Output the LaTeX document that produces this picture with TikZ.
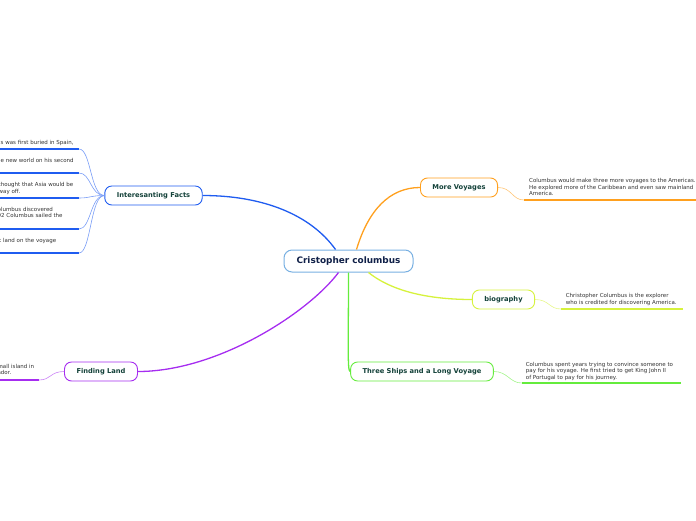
\documentclass[tikz,border=0pt]{standalone}
\usepackage{fontspec}
\setmainfont{DejaVu Sans}
\usepackage{tikz}
\usetikzlibrary{positioning}

\definecolor{factsblue}{RGB}{31,92,240}
\definecolor{tripsorange}{RGB}{255,160,30}
\definecolor{bioyellow}{RGB}{214,242,60}
\definecolor{shipsgreen}{RGB}{100,236,60}
\definecolor{landpurple}{RGB}{166,45,240}
\definecolor{rootblue}{RGB}{120,176,226}
\definecolor{topictext}{RGB}{20,66,58}
\definecolor{roottext}{RGB}{16,32,72}
\definecolor{notetext}{RGB}{50,50,50}

\begin{document}
\begin{tikzpicture}[x=1pt, y=-1pt,
    root/.style={rectangle, rounded corners=8pt, draw=rootblue, line width=1pt, fill=white,
                 minimum width=129pt, minimum height=22pt, inner sep=0pt,
                 font=\fontsize{8.9}{10}\selectfont\bfseries, text=roottext},
    topic/.style={rectangle, rounded corners=7pt, draw=#1, line width=0.9pt, fill=white,
                  minimum height=19pt, inner xsep=12pt, inner ysep=0pt,
                  font=\fontsize{6.7}{8}\selectfont\bfseries, text=topictext},
    note/.style={inner sep=0pt, align=left, text=notetext,
                 font=\fontsize{5.5}{6.7}\selectfont},
    branch/.style={draw=#1, line width=1.3pt},
    twig/.style={draw=#1!60, line width=0.6pt},
    uline/.style={draw=#1, line width=1.8pt}
]
    \useasboundingbox (0,0) rectangle (696,520);

    % Main topics
    \node[root] (root) at (348.5,261) {Cristopher columbus};
    \node[topic=factsblue] (facts) at (153.5,195.5) {Interesanting Facts};
    \node[topic=tripsorange] (trips) at (459,187.5) {More Voyages};
    \node[topic=bioyellow] (bio) at (503.5,299.5) {biography};
    \node[topic=shipsgreen] (ships) at (422,371.5) {Three Ships and a Long Voyage};
    \node[topic=landpurple] (land) at (101,371.5) {Finding Land};

    % Branches from the centre
    \draw[branch=factsblue] ([xshift=-13pt]root.north) .. controls +(-25,-35) and +(60,0) .. (facts.east);
    \draw[branch=tripsorange] ([xshift=8pt]root.north) .. controls +(12,-40) and +(-30,0) .. (trips.west);
    \draw[branch=bioyellow] ([xshift=20pt]root.south) .. controls +(25,20) and +(-40,0) .. (bio.west);
    \draw[branch=shipsgreen] (root.south) .. controls +(0,70) and +(-3,0) .. (ships.west);
    \draw[branch=landpurple] ([xshift=-10pt]root.south) .. controls +(-30,40) and +(80,0) .. (land.east);

    % Notes on the right
    \node[note, anchor=north west] (tripsnote) at (529,178.2) {Columbus would make three more voyages to the Americas.\\He explored more of the Caribbean and even saw mainland\\America.};
    \coordinate (tripsline) at (524,200);
    \draw[uline=tripsorange] (tripsline) -- ++(175,0);
    \draw[twig=tripsorange] (trips.east) .. controls +(14,0) and +(-12,0) .. (tripsline);

    \node[note, anchor=north west] (bionote) at (565.7,293.4) {Christopher Columbus is the explorer\\who is credited for discovering America.};
    \coordinate (bioline) at (561,309);
    \draw[uline=bioyellow] (bioline) -- ++(122,0);
    \draw[twig=bioyellow] (bio.east) .. controls +(14,0) and +(-12,0) .. (bioline);

    \node[note, anchor=north west] (shipsnote) at (525.7,361.7) {Columbus spent years trying to convince someone to\\pay for his voyage. He first tried to get King John II\\of Portugal to pay for his journey.};
    \coordinate (shipsline) at (521.7,383);
    \draw[uline=shipsgreen] (shipsline) -- ++(159.3,0);
    \draw[twig=shipsgreen] (ships.east) .. controls +(14,0) and +(-12,0) .. (shipsline);

    % Notes on the left
    \node[note, anchor=north west] (landnote) at (-2.6,363.7) {mall island in\\ador.};
    \coordinate (landline) at (39,380);
    \draw[uline=landpurple] (landline) -- ++(-42,0);
    \draw[twig=landpurple] (land.west) .. controls +(-14,0) and +(12,0) .. (landline);

    \foreach \n/\ty/\x/\uy/\txt in {1/140/0.5/149/{s was first buried in Spain,},
                                   2/157.7/0.5/173/{e new world on his second},
                                   3/182/-1.5/198/{thought that Asia would be\\way off.},
                                   4/206.7/-2.5/229/{olumbus discovered\\92 Columbus sailed the},
                                   5/237.7/-1/253/{t land on the voyage}} {
        \node[note, anchor=north west] (fact\n) at (\x,\ty) {\txt};
        \coordinate (factline\n) at (79,\uy);
        \draw[uline=factsblue] (factline\n) -- ++(-82,0);
        \draw[twig=factsblue] (facts.west) .. controls +(-14,0) and +(12,0) .. (factline\n);
    }
\end{tikzpicture}
\end{document}
